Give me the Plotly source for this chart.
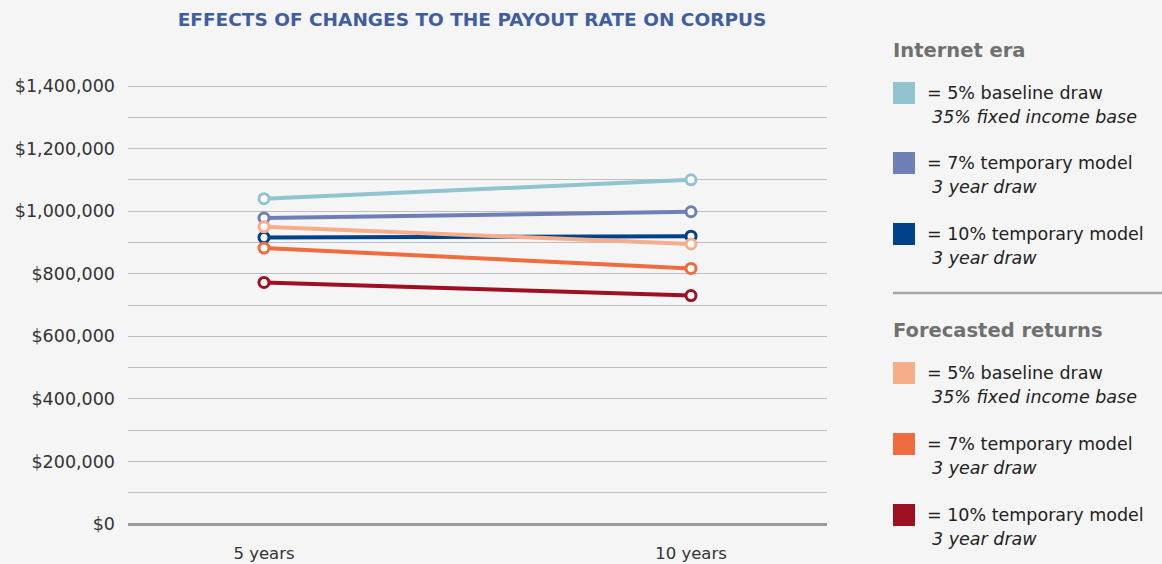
import plotly.graph_objects as go

categories = ["5 years", "10 years"]
series_names = [
    "Internet era 5% baseline draw",
    "Internet era 7% temporary model",
    "Internet era 10% temporary model",
    "Forecasted 5% baseline draw",
    "Forecasted 7% temporary model",
    "Forecasted 10% temporary model",
]
internet_5 = [1040000, 1100000]
internet_7 = [978000, 998000]
internet_10 = [916000, 920000]
forecast_5 = [950000, 895000]
forecast_7 = [882000, 817000]
forecast_10 = [772000, 730000]
series_values = [internet_5, internet_7, internet_10, forecast_5, forecast_7, forecast_10]
colors = ["#92C4CF", "#6E7FB5", "#004289", "#F6AD89", "#EE6C3D", "#9C1022"]

y_ticks = [0, 200000, 400000, 600000, 800000, 1000000, 1200000, 1400000]
y_tick_labels = ["$0", "$200,000", "$400,000", "$600,000", "$800,000", "$1,000,000", "$1,200,000", "$1,400,000"]

legend_groups = ["Internet era", "Forecasted returns"]
legend_main = ["= 5% baseline draw", "= 7% temporary model", "= 10% temporary model"]
legend_sub = ["35% fixed income base", "3 year draw", "3 year draw"]

W, H = 1162, 564
ML, MR, MT, MB = 128, W - 827, 84, 38
PW, PH = W - ML - MR, H - MT - MB

def px(x):
    return (x - ML) / PW

def py(y):
    return (H - MB - y) / PH

fig = go.Figure()
for name, vals, c in zip(series_names, series_values, colors):
    fig.add_trace(go.Scatter(
        x=categories, y=vals, mode="lines+markers", name=name, showlegend=False,
        line=dict(color=c, width=4),
        marker=dict(size=10, color="white", line=dict(color=c, width=3)),
    ))

shapes = []
annotations = []
FONT = "DejaVu Sans"

# Legend
square_centers = [[93, 163, 234], [373, 444, 515]]
header_y = [50, 330]
for g in range(2):
    annotations.append(dict(
        x=px(891), y=py(header_y[g]), xref="paper", yref="paper", text=legend_groups[g],
        showarrow=False, xanchor="left", yanchor="middle",
        font=dict(family=FONT, size=19.5, color="#707070", weight=600)))
    for i in range(3):
        cy = square_centers[g][i]
        col = colors[g * 3 + i]
        shapes.append(dict(type="rect", xref="paper", yref="paper",
                           x0=px(893), x1=px(915), y0=py(cy - 11), y1=py(cy + 11),
                           fillcolor=col, line=dict(width=0)))
        annotations.append(dict(
            x=px(925), y=py(cy), xref="paper", yref="paper", text=legend_main[i],
            showarrow=False, xanchor="left", yanchor="middle",
            font=dict(family=FONT, size=17.5, color="#222222")))
        annotations.append(dict(
            x=px(930), y=py(cy + 24), xref="paper", yref="paper", text="<i>" + legend_sub[i] + "</i>",
            showarrow=False, xanchor="left", yanchor="middle",
            font=dict(family=FONT, size=17.5, color="#222222")))

shapes.append(dict(type="line", xref="paper", yref="paper",
                   x0=px(893), x1=px(1162), y0=py(293), y1=py(293),
                   line=dict(color="#a5a5a5", width=2.5)))

fig.update_layout(
    width=W, height=H,
    margin=dict(l=ML, r=MR, t=MT, b=MB, autoexpand=False),
    paper_bgcolor="#F5F5F5", plot_bgcolor="#F5F5F5",
    title=dict(text="<b>EFFECTS OF CHANGES TO THE PAYOUT RATE ON CORPUS</b>",
               x=472 / W, xanchor="center", y=1 - 20 / H, yanchor="middle",
               font=dict(family=FONT, size=18.5, color="#3F5EA2")),
    xaxis=dict(type="category", range=[-0.3185, 1.3185], showgrid=False, zeroline=False,
               showline=False, ticks="", ticklabelstandoff=15, automargin=False,
               tickfont=dict(family=FONT, size=16.5, color="#333333")),
    yaxis=dict(range=[-6400, 1406400], tickvals=y_ticks, ticktext=y_tick_labels,
               showgrid=True, gridcolor="#bdbdbd", gridwidth=1, automargin=False,
               minor=dict(dtick=100000, showgrid=True, gridcolor="#bdbdbd", gridwidth=1, tick0=0),
               zeroline=True, zerolinecolor="#9a9a9a", zerolinewidth=2.5,
               showline=False, ticks="", ticklabelstandoff=12,
               tickfont=dict(family=FONT, size=17.5, color="#333333")),
    shapes=shapes, annotations=annotations,
)

fig.write_html("out.html", config={"displayModeBar": False},
               post_script="document.body.style.margin='0';document.body.style.background='#F5F5F5';")
